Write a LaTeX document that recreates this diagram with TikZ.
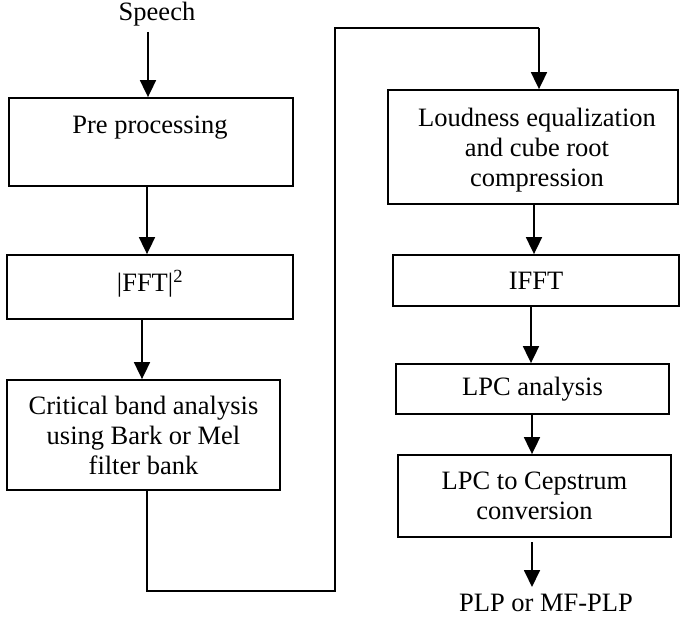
\documentclass[tikz,border=0pt]{standalone}
\usepackage{fontspec}
\setmainfont{Liberation Serif}
\usetikzlibrary{arrows.meta}
\begin{document}
\begin{tikzpicture}[x=1pt,y=-1pt,
  box/.style={draw, line width=1.8pt, inner sep=0pt},
  lbl/.style={align=center, inner sep=0pt, font=\fontsize{26.5}{30}\selectfont},
  arr/.style={line width=1.8pt, -{Triangle[width=16pt,length=17pt]}},
  wire/.style={line width=1.8pt}]
\useasboundingbox (0,0) rectangle (680,618);
% left column
\node[lbl] (speech) at (157,14) {Speech};
\node[box, minimum width=284pt, minimum height=88pt] (pre) at (151,142) {};
\node[lbl] (pretxt) at (150,128) {Pre processing};
\node[box, minimum width=286pt, minimum height=64pt] (fft) at (150,287) {};
\node[lbl] (ffttxt) at (150,284) {|FFT|\textsuperscript{2}};
\node[box, lbl, minimum width=273pt, minimum height=110pt] (crit) at (143.5,435) {Critical band analysis\\using Bark or Mel\\filter bank};
% right column
\node[box, minimum width=290pt, minimum height=114pt] (loud) at (533,147) {};
\node[lbl] (loudtxt) at (537,150) {Loudness equalization\\and cube root\\compression};
\node[box, lbl, minimum width=286pt, minimum height=51pt] (ifft) at (536,280.5) {IFFT};
\node[box, lbl, minimum width=273pt, minimum height=50pt] (lpc) at (532.5,389) {LPC analysis};
\node[box, lbl, minimum width=273pt, minimum height=82pt] (cep) at (534.5,496) {LPC to Cepstrum\\conversion};
\node[lbl] (plp) at (546,603) {PLP or MF-PLP};
% connectors
\coordinate (s0) at (148,32);
\draw[arr] (s0) -- (s0 |- pre.north);
\draw[arr] ([xshift=-4pt]pre.south) -- ([xshift=-3pt]fft.north);
\draw[arr] ([xshift=-8pt]fft.south) -- ([xshift=-1.5pt]crit.north);
\coordinate (c1) at (147,591);
\coordinate (c2) at (335,591);
\coordinate (c3) at (335,28);
\coordinate (c4) at (539,28);
\draw[wire] ([xshift=3.5pt]crit.south) -- (c1) -- (c2) -- (c3) -- (c4);
\draw[arr] (c4) -- (c4 |- loud.north);
\draw[arr] ([xshift=1pt]loud.south) -- ([xshift=-2pt]ifft.north);
\draw[arr] ([xshift=-5pt]ifft.south) -- ([xshift=-1.5pt]lpc.north);
\draw[arr] ([xshift=-0.5pt]lpc.south) -- ([xshift=-2.5pt]cep.north);
\coordinate (p0) at (532,542);
\draw[arr] (p0) -- (532,587);
\end{tikzpicture}
\end{document}
